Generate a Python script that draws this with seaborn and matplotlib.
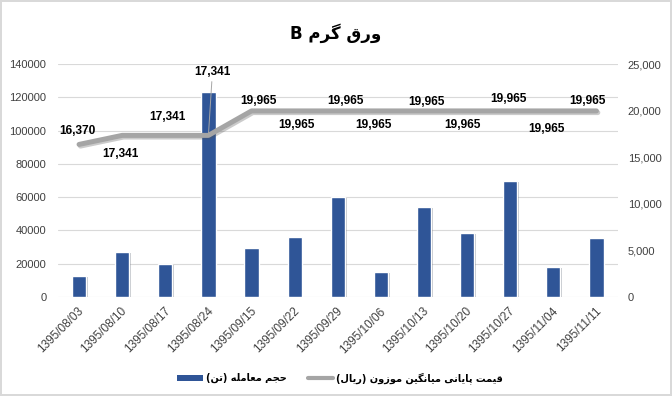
import numpy as np
import pandas as pd
import matplotlib
matplotlib.use("Agg")
import matplotlib.pyplot as plt
import matplotlib.patheffects as pe
import matplotlib.transforms as mtransforms
from matplotlib.lines import Line2D
from matplotlib.patches import Patch
import seaborn as sns

# ---------------- data ----------------
dates = ["1395/08/03", "1395/08/10", "1395/08/17", "1395/08/24", "1395/09/15",
         "1395/09/22", "1395/09/29", "1395/10/06", "1395/10/13", "1395/10/20",
         "1395/10/27", "1395/11/04", "1395/11/11"]
volume = [12800, 27200, 20000, 123400, 29600, 36300, 60300, 15200, 54300,
          38700, 69900, 18200, 35600]
price = [16370, 17341, 17341, 17341, 19965, 19965, 19965, 19965, 19965,
         19965, 19965, 19965, 19965]
left_ticks = [0, 20000, 40000, 60000, 80000, 100000, 120000, 140000]
right_ticks = [0, 5000, 10000, 15000, 20000, 25000]
title = "ورق گرم B"
legend_bar = "حجم معامله (تن)"
legend_line = "قیمت پایانی میانگین موزون (ریال)"

# label offsets (pixels) for data labels of the line
label_offsets = [(-2, 13), (-2, -19), (2, 18), (4, 63), (7, 10), (2, -14), (8, 10),
                 (-7, -14), (2, 9), (-5, -14), (-2, 12), (-7, -18), (-9, 10)]

# ---------------- simple Arabic/Persian shaping ----------------
FORMS = {
    '\u0627': ('\uFE8D', '\uFE8E', None, None),
    '\u0628': ('\uFE8F', '\uFE90', '\uFE91', '\uFE92'),
    '\u067E': ('\uFB56', '\uFB57', '\uFB58', '\uFB59'),
    '\u062A': ('\uFE95', '\uFE96', '\uFE97', '\uFE98'),
    '\u062C': ('\uFE9D', '\uFE9E', '\uFE9F', '\uFEA0'),
    '\u062D': ('\uFEA1', '\uFEA2', '\uFEA3', '\uFEA4'),
    '\u062F': ('\uFEA9', '\uFEAA', None, None),
    '\u0631': ('\uFEAD', '\uFEAE', None, None),
    '\u0632': ('\uFEAF', '\uFEB0', None, None),
    '\u0633': ('\uFEB1', '\uFEB2', '\uFEB3', '\uFEB4'),
    '\u0639': ('\uFEC9', '\uFECA', '\uFECB', '\uFECC'),
    '\u0642': ('\uFED5', '\uFED6', '\uFED7', '\uFED8'),
    '\u06A9': ('\uFB8E', '\uFB8F', '\uFB90', '\uFB91'),
    '\u06AF': ('\uFB92', '\uFB93', '\uFB94', '\uFB95'),
    '\u0644': ('\uFEDD', '\uFEDE', '\uFEDF', '\uFEE0'),
    '\u0645': ('\uFEE1', '\uFEE2', '\uFEE3', '\uFEE4'),
    '\u0646': ('\uFEE5', '\uFEE6', '\uFEE7', '\uFEE8'),
    '\u0647': ('\uFEE9', '\uFEEA', '\uFEEB', '\uFEEC'),
    '\u0648': ('\uFEED', '\uFEEE', None, None),
    '\u06CC': ('\uFBFC', '\uFBFD', '\uFBFE', '\uFBFF'),
    '\u064A': ('\uFEF1', '\uFEF2', '\uFEF3', '\uFEF4'),
}


def shape(s):
    out = []
    for i, c in enumerate(s):
        if c not in FORMS:
            out.append(c)
            continue
        prev = s[i - 1] if i > 0 else None
        nxt = s[i + 1] if i + 1 < len(s) else None
        jp = prev in FORMS and FORMS[prev][2] is not None
        jn = FORMS[c][2] is not None and nxt in FORMS
        iso, fin, ini, med = FORMS[c]
        if jp and jn:
            out.append(med)
        elif jp:
            out.append(fin)
        elif jn:
            out.append(ini)
        else:
            out.append(iso)
    vis = ''.join(reversed(out))
    return vis.translate(str.maketrans('()', ')('))


# ---------------- figure ----------------
sns.set_style("white")
plt.rcParams['font.family'] = ['Liberation Sans', 'DejaVu Sans']
plt.rcParams['text.color'] = 'black'

W, H = 672, 396
fig = plt.figure(figsize=(W / 100, H / 100), dpi=100)
fig.patch.set_facecolor('white')
fig.patch.set_edgecolor('#D9D9D9')
fig.patch.set_linewidth(1.5)

ax = fig.add_axes([57.5 / W, 1 - 297 / H, (618 - 57.5) / W, (297 - 64) / H])
df = pd.DataFrame({"date": dates, "volume": volume, "price": price})

sns.barplot(data=df, x="date", y="volume", ax=ax, color="#2F5597",
            width=0.33, saturation=1, zorder=2)
for p in ax.patches:
    p.set_path_effects([pe.SimplePatchShadow(offset=(1.2, -0.8), alpha=0.25), pe.Normal()])

ax.set_ylim(0, 140000)
ax.set_yticks(left_ticks)
ax.set_yticklabels([str(v) for v in left_ticks])
ax.set_xlim(-0.5, len(dates) - 0.5)
ax.grid(axis='y', color='#D9D9D9', lw=0.8, zorder=0)
ax.grid(axis='x', visible=False)
for s in ax.spines.values():
    s.set_visible(False)
ax.set_xlabel("")
ax.set_ylabel("")
ax.tick_params(axis='y', length=0, pad=8, labelsize=8, labelcolor='#404040')
ax.tick_params(axis='x', length=0, pad=9, labelsize=8.5, labelcolor='#404040')
offset = mtransforms.ScaledTranslation(3 / 100, 0, fig.dpi_scale_trans)
for lab in ax.get_xticklabels():
    lab.set_rotation(45)
    lab.set_ha('right')
    lab.set_va('center')
    lab.set_rotation_mode('anchor')
    lab.set_transform(lab.get_transform() + offset)

ax2 = ax.twinx()
xs = np.arange(len(dates))
sns.lineplot(x=xs, y=price, ax=ax2, color='#A5A5A5', lw=3.6,
             solid_capstyle='round', solid_joinstyle='round', zorder=3)
ax2.lines[0].set_path_effects([pe.SimpleLineShadow(offset=(1, -1.2), alpha=0.3, shadow_color='#555555'),
                               pe.Normal()])
ax2.set_ylim(0, 25000)
ax2.set_yticks(right_ticks)
ax2.set_yticklabels([f"{v:,}" for v in right_ticks])
ax2.set_xlim(-0.5, len(dates) - 0.5)
for s in ax2.spines.values():
    s.set_visible(False)
ax2.tick_params(axis='y', length=0, pad=7, labelsize=8, labelcolor='#404040')
ax2.set_ylabel("")

for i, (x, v) in enumerate(zip(xs, price)):
    dx, dy = label_offsets[i]
    kw = {}
    if abs(dy) > 40:
        kw['arrowprops'] = dict(arrowstyle='-', color='#A6A6A6', lw=0.7,
                                shrinkA=0, shrinkB=1)
    ax2.annotate(f"{v:,}", xy=(x, v), xytext=(dx, dy), textcoords='offset pixels',
                 ha='center', va='center', fontsize=8.6, fontweight='bold',
                 color='black', zorder=5, **kw)

fig.text(0.5, 1 - 33 / H, shape(title), ha='center', va='center', color='black',
         fontsize=12, fontweight='bold', family=['DejaVu Sans'])

handles = [Patch(facecolor='#2F5597', edgecolor='none'),
           Line2D([0], [0], color='#A5A5A5', lw=3)]
leg = fig.legend(handles, [shape(legend_bar), shape(legend_line)],
                 loc='center', bbox_to_anchor=(0.506, 1 - 378 / H), ncol=2,
                 frameon=False, handlelength=2.6, handleheight=0.6,
                 handletextpad=0.3, columnspacing=2.2,
                 prop={'family': ['DejaVu Sans'], 'weight': 'bold', 'size': 7})
for t in leg.get_texts():
    t.set_color('black')

fig.savefig("out.png", dpi=100, facecolor=fig.get_facecolor(), edgecolor=fig.get_edgecolor())
